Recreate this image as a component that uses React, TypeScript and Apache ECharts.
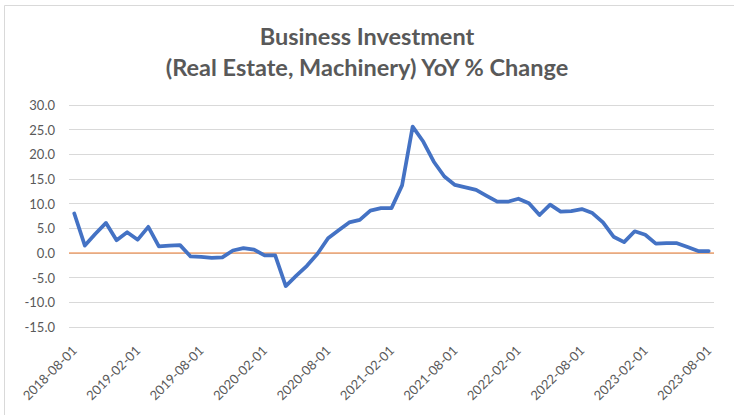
import React, { useEffect, useRef } from "react";
import * as echarts from "echarts";

const months = [
  "2018-08-01", "2018-09-01", "2018-10-01", "2018-11-01", "2018-12-01",
  "2019-01-01", "2019-02-01", "2019-03-01", "2019-04-01", "2019-05-01", "2019-06-01", "2019-07-01",
  "2019-08-01", "2019-09-01", "2019-10-01", "2019-11-01", "2019-12-01",
  "2020-01-01", "2020-02-01", "2020-03-01", "2020-04-01", "2020-05-01", "2020-06-01", "2020-07-01",
  "2020-08-01", "2020-09-01", "2020-10-01", "2020-11-01", "2020-12-01",
  "2021-01-01", "2021-02-01", "2021-03-01", "2021-04-01", "2021-05-01", "2021-06-01", "2021-07-01",
  "2021-08-01", "2021-09-01", "2021-10-01", "2021-11-01", "2021-12-01",
  "2022-01-01", "2022-02-01", "2022-03-01", "2022-04-01", "2022-05-01", "2022-06-01", "2022-07-01",
  "2022-08-01", "2022-09-01", "2022-10-01", "2022-11-01", "2022-12-01",
  "2023-01-01", "2023-02-01", "2023-03-01", "2023-04-01", "2023-05-01", "2023-06-01", "2023-07-01",
  "2023-08-01",
];

const yoyChange = [
  8.0, 1.5, 3.9, 6.1, 2.6,
  4.2, 2.7, 5.3, 1.35, 1.5, 1.6, -0.7,
  -0.8, -1.0, -0.9, 0.5, 1.0,
  0.7, -0.5, -0.5, -6.7, -4.6, -2.6, -0.15,
  3.0, 4.6, 6.2, 6.7, 8.6,
  9.1, 9.1, 13.7, 25.6, 22.6, 18.5, 15.5,
  13.8, 13.3, 12.8, 11.6, 10.4,
  10.4, 11.0, 10.1, 7.7, 9.8, 8.4, 8.5,
  8.9, 8.1, 6.2, 3.3, 2.2,
  4.4, 3.7, 1.9, 2.0, 2.0, 1.2, 0.4,
  0.4,
];

const yMin = -15;
const yMax = 30;
const yStep = 5;

// horizontal axis line (crosses at 0) spanning the whole plot width
const zeroLineValue = 0;

const chartTitle = "Business Investment\n(Real Estate, Machinery) YoY % Change";

const textColor = "#595959";
const gridColor = "#D9D9D9";
const zeroColor = "#ED7D31";
const font = "Lato, 'Open Sans', sans-serif";

export default function App() {
  const ref = useRef<HTMLDivElement>(null);

  useEffect(() => {
    if (!ref.current) return;
    const chart = echarts.init(ref.current, null, { renderer: "svg" });
    chart.setOption({
      animation: false,
      backgroundColor: "#ffffff",
      title: {
        text: chartTitle,
        left: "center",
        top: 15,
        textStyle: {
          fontFamily: font,
          fontWeight: "bold",
          fontSize: 23.5,
          lineHeight: 31,
          color: textColor,
        },
      },
      grid: { left: 69, right: 20, top: 105, bottom: 88 },
      xAxis: [
        {
          type: "category",
          data: months,
          boundaryGap: true,
          axisLine: { show: false },
          axisTick: { show: false },
          splitLine: { show: false },
          axisLabel: {
            interval: 5,
            rotate: 45,
            color: textColor,
            fontFamily: font,
            fontSize: 13,
            margin: 21,
          },
        },
        {
          type: "value",
          min: 0,
          max: 1,
          show: false,
        },
      ],
      yAxis: {
        type: "value",
        min: yMin,
        max: yMax,
        interval: yStep,
        axisLine: { show: false },
        axisTick: { show: false },
        axisLabel: {
          formatter: (v: number) => v.toFixed(1),
          color: textColor,
          fontFamily: font,
          fontSize: 13,
          margin: 14,
        },
        splitLine: { lineStyle: { color: gridColor, width: 1 } },
      },
      series: [
        {
          type: "line",
          xAxisIndex: 1,
          data: [
            [0, zeroLineValue],
            [1, zeroLineValue],
          ],
          symbol: "none",
          silent: true,
          lineStyle: { color: zeroColor, width: 1.2 },
          z: 2,
        },
        {
          type: "line",
          data: yoyChange,
          symbol: "none",
          lineStyle: { color: "#4472C4", width: 3.75, join: "round", cap: "round" },
          z: 3,
        },
      ],
      graphic: [
        {
          type: "rect",
          silent: true,
          shape: { x: 4.5, y: 5.5, width: 900, height: 600 },
          style: { fill: "none", stroke: gridColor, lineWidth: 1 },
        },
      ],
    });
    return () => chart.dispose();
  }, []);

  return (
    <div
      ref={ref}
      style={{ position: "absolute", left: 0, top: 0, width: 734, height: 415 }}
    />
  );
}
